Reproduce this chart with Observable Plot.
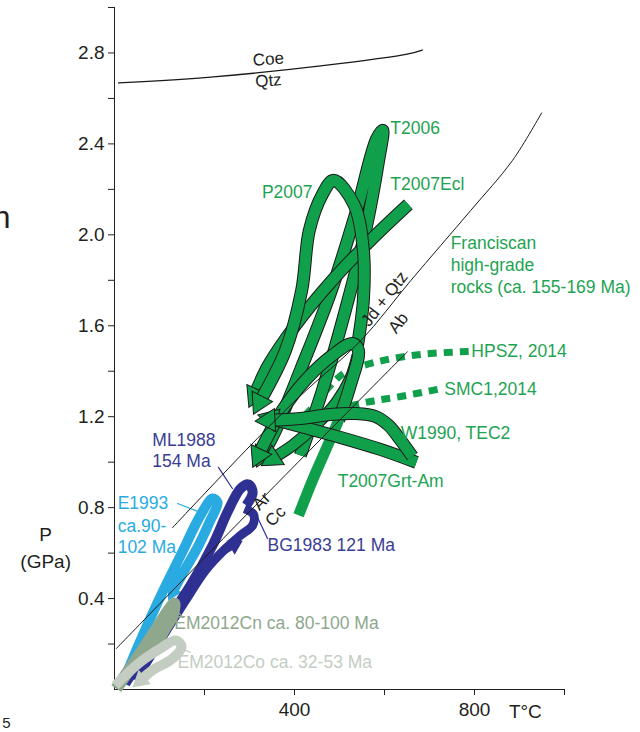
<!DOCTYPE html>
<html><head><meta charset="utf-8">
<script src="https://cdn.jsdelivr.net/npm/d3@7"></script>
<script src="https://cdn.jsdelivr.net/npm/@observablehq/plot@0.6"></script>
<style>body{margin:0;background:#fff} #chart svg{display:block}</style>
</head><body><div id="chart"></div>
<script>
// ---- axis ticks ----
const xTicks = [200, 400, 600, 800, 1000];
const xTickLabels = [400, 800];
const yTicks = [0.2,0.4,0.6,0.8,1.0,1.2,1.4,1.6,1.8,2.0,2.2,2.4,2.6,2.8,3.0];
const yTickLabels = [0.4,0.8,1.2,1.6,2.0,2.4,2.8];

// ---- reaction curves [T °C, P GPa] ----
const coeQtz = [[9,2.668],[220,2.695],[458,2.743],[653,2.796],[684,2.813]];
const jdQtzAb = [[129,0.712],[302,1.073],[413,1.292],[547,1.534],[658,1.798],[791,2.106],[884,2.326],[949,2.536]];
const arCc = [[4,0.180],[324,0.831],[651,1.486]];

// ---- Franciscan high-grade paths ----
const hpsz2014 = [[787,1.487],[680,1.474],[587,1.443],[513,1.395],[480,1.338],[453,1.272],[424,1.206]];
const smc12014 = [[718,1.320],[636,1.289],[569,1.267],[502,1.236],[436,1.192],[402,1.162]];
const t2006 = [[413,1.030],[462,1.316],[513,1.668],[558,2.020],[587,2.328],[596,2.460],[582,2.420],[538,2.108],[482,1.756],[413,1.404],[358,1.140],[329,1.030]];
const t2007Ecl = [[653,2.134],[569,1.976],[480,1.791],[402,1.602],[342,1.426],[311,1.294]];
const p2007 = [[540,1.514],[553,1.712],[553,1.932],[533,2.130],[487,2.240],[462,2.178],[433,2.020],[416,1.756],[380,1.492],[322,1.263]];
const tec2Prograde = [[409,0.766],[440,0.920],[469,1.052],[498,1.184]];
const tec2Outer = [[498,1.184],[524,1.338],[542,1.492],[529,1.522],[484,1.470],[424,1.360],[373,1.228],[336,1.096],[320,1.030]];
const tec2Inner = [[540,1.470],[524,1.368],[493,1.263],[447,1.162],[396,1.074],[351,1.016]];
const t2007GrtAm = [[671,0.999],[591,1.056],[502,1.109],[413,1.157],[347,1.192]];
const w1990 = [[662,1.025],[636,1.096],[609,1.162],[580,1.201],[536,1.214],[480,1.210],[413,1.192],[342,1.184]];

// ---- younger paths ----
const e1993 = [[18,0.026],[53,0.194],[98,0.392],[147,0.590],[191,0.766],[218,0.840],[229,0.823],[213,0.744],[187,0.634],[153,0.515],[129,0.427]];
const ml1988 = [[24,0.026],[102,0.260],[169,0.458],[218,0.634],[253,0.788],[280,0.884],[298,0.902],[307,0.867],[293,0.810]];
const bg1983 = [[289,0.796],[309,0.770],[307,0.722],[280,0.678],[247,0.620],[202,0.524],[158,0.392],[102,0.216],[47,0.040]];
const bg1983Tip = [[240,0.603],[267,0.634]];
const em2012Cn = [[4,0.004],[47,0.128],[91,0.260],[120,0.348],[133,0.378],[129,0.326],[107,0.251],[91,0.180]];
const em2012Co = [[2,0.018],[53,0.114],[102,0.180],[136,0.216],[149,0.189],[129,0.136],[84,0.084],[58,0.040]];

// ---- leader lines ----
const ml1988Leader = [[231,0.977],[262,0.884]];
const e1993Leader = [[140,0.818],[191,0.779]];
const bg1983Leader = [[318,0.757],[340,0.664]];
const cnLeader = [[129,0.361],[153,0.317]];
const coLeader = [[147,0.180],[169,0.163]];

// ---- labels ----
const greenLabels = [
  {text:"T2006", T:613, P:2.468},
  {text:"T2007Ecl", T:613, P:2.222},
  {text:"Franciscan", T:747, P:1.962},
  {text:"high-grade", T:747, P:1.866},
  {text:"rocks (ca. 155-169 Ma)", T:747, P:1.769},
  {text:"HPSZ, 2014", T:793, P:1.487},
  {text:"SMC1,2014", T:733, P:1.320},
  {text:"W1990, TEC2", T:636, P:1.126},
  {text:"T2007Grt-Am", T:496, P:0.915}
];
const greenLabelsEnd = [{text:"P2007", T:440, P:2.187}];
const darkBlueLabels = [
  {text:"ML1988", T:84, P:1.096},
  {text:"154 Ma", T:84, P:1.003},
  {text:"BG1983 121 Ma", T:340, P:0.634}
];
const lightBlueLabels = [
  {text:"E1993", T:7, P:0.818},
  {text:"ca.90-", T:7, P:0.717},
  {text:"102 Ma", T:7, P:0.625}
];
const cnLabels = [{text:"EM2012Cn ca. 80-100 Ma", T:133, P:0.290}];
const coLabels = [{text:"EM2012Co ca. 32-53 Ma", T:140, P:0.119}];
const reactionLabels = [
  {text:"Coe", T:342, P:2.772, rot:-5},
  {text:"Qtz", T:342, P:2.678, rot:-5},
  {text:"Jd + Qtz", T:600, P:1.718, rot:-52},
  {text:"Ab", T:631, P:1.612, rot:-52},
  {text:"Ar", T:327, P:0.828, rot:-45},
  {text:"Cc", T:358, P:0.762, rot:-45}
];
const axisTitles = [
  {text:"P", T:-153, P:0.678},
  {text:"(GPa)", T:-153, P:0.563},
  {text:"T°C", T:913, P:-0.097}
];
const edgeLetters = [{text:"n", T:-231, P:2.075, s:32}, {text:"5", T:-231, P:-0.149, s:15}];

// ---- layout ----
const W = 640, H = 732, mL = 114, mR = 76, mT = 7, mB = 43;
const xDom = [0, 1000], yDom = [0, 3];
const kx = (W - mL - mR) / (xDom[1] - xDom[0]);
const ky = (H - mT - mB) / (yDom[1] - yDom[0]);

const GREEN = "#109f4a", GREEN_TXT = "#1ea352", DBLUE = "#2e3192", DBLUE_TXT = "#393d93",
      LBLUE = "#29abe2", CN = "#8ea78d", CO = "#c3cdc2", OUT = "#1a1a1a";
const FONT = "Liberation Sans, Arial, Helvetica, sans-serif";

function tipOf(pts) {
  const a = pts[pts.length - 2], b = pts[pts.length - 1];
  const dx = (b[0] - a[0]) * kx, dy = -(b[1] - a[1]) * ky;
  return {T: b[0], P: b[1], rot: Math.atan2(dx, -dy) * 180 / Math.PI};
}
function band(pts, color, w, {outline = true, arrow = false, r = 8.5} = {}) {
  const o = {x: d => d[0], y: d => d[1], curve: "catmull-rom", strokeLinejoin: "round", strokeLinecap: "butt"};
  const m = [];
  if (outline) m.push(Plot.line(pts, {...o, stroke: OUT, strokeWidth: w + 2}));
  m.push(Plot.line(pts, {...o, stroke: color, strokeWidth: w}));
  if (arrow) m.push(Plot.dot([tipOf(pts)], {x: "T", y: "P", symbol: "triangle", r, rotate: "rot",
    fill: color, stroke: outline ? OUT : "none", strokeWidth: 1}));
  return m;
}
function labels(data, color, size = 17.5, anchor = "start") {
  return Plot.text(data, {x: "T", y: "P", text: "text", fill: color, fontSize: size, textAnchor: anchor, fontFamily: FONT});
}
function thin(pts, color, w = 1.2, extra = {}) {
  return Plot.line(pts, {x: d => d[0], y: d => d[1], stroke: color, strokeWidth: w, curve: "catmull-rom", ...extra});
}

const marks = [
  // dashed 2014 paths
  thin(hpsz2014, GREEN, 7, {strokeDasharray: "9,7", strokeLinecap: "butt"}),
  thin(smc12014, GREEN, 7, {strokeDasharray: "9,7", strokeLinecap: "butt"}),
  // green high-grade bands
  ...band(t2006, GREEN, 11, {arrow: true}),
  ...band(t2007Ecl, GREEN, 11, {arrow: true}),
  ...band(p2007, GREEN, 11, {arrow: true}),
  ...band(tec2Prograde, GREEN, 11, {outline: false}),
  ...band(tec2Inner, GREEN, 10, {arrow: true}),
  ...band(tec2Outer, GREEN, 11, {arrow: true}),
  ...band(t2007GrtAm, GREEN, 11, {arrow: true}),
  ...band(w1990, GREEN, 11, {arrow: true}),
  // blue paths
  ...band(e1993, LBLUE, 10, {outline: false, arrow: true, r: 6}),
  ...band(bg1983, DBLUE, 9, {outline: false}),
  ...band(ml1988, DBLUE, 10, {outline: false}),
  ...band(bg1983Tip, DBLUE, 6, {outline: false, arrow: true, r: 6}),
  ...band(em2012Cn, CN, 12, {outline: false, arrow: true, r: 7}),
  ...band(em2012Co, CO, 10, {outline: false, arrow: true, r: 7}),
  // leaders
  thin(ml1988Leader, DBLUE, 1.2),
  thin(e1993Leader, LBLUE, 1.2),
  thin(bg1983Leader, DBLUE, 1.2),
  thin(cnLeader, CN, 1.2),
  thin(coLeader, CO, 1.2),
  // reaction lines
  thin(coeQtz, OUT, 1.3),
  thin(jdQtzAb, OUT, 1),
  thin(arCc, OUT, 1),
  Plot.text(reactionLabels, {x: "T", y: "P", text: "text", rotate: "rot", fill: "#231f20", fontSize: 17, fontFamily: FONT}),
  // labels
  labels(greenLabels, GREEN_TXT),
  labels(greenLabelsEnd, GREEN_TXT, 17.5, "end"),
  labels(darkBlueLabels, DBLUE_TXT),
  labels(lightBlueLabels, LBLUE),
  labels(cnLabels, CN),
  labels(coLabels, CO),
  Plot.text(axisTitles, {x: "T", y: "P", text: "text", fill: "#231f20", fontSize: 19, fontFamily: FONT}),
  Plot.text(edgeLetters, {x: "T", y: "P", text: "text", fill: "#231f20", fontSize: d => d.s, textAnchor: "end", fontFamily: FONT})
];

const chart = Plot.plot({
  width: W, height: H,
  marginLeft: mL, marginRight: mR, marginTop: mT, marginBottom: mB,
  style: {fontFamily: FONT, fontSize: "19px", color: "#231f20", background: "#fff", overflow: "visible"},
  x: {domain: xDom, ticks: xTicks, tickFormat: d => xTickLabels.includes(d) ? String(d) : "",
      tickSize: 6, tickPadding: 7, line: true, label: null},
  y: {domain: yDom, ticks: yTicks,
      tickFormat: d => yTickLabels.some(v => Math.abs(v - d) < 1e-9) ? d.toFixed(1) : "",
      tickSize: 6, tickPadding: 4, line: true, label: null},
  marks
});
document.getElementById("chart").appendChild(chart);
</script>
</body></html>
